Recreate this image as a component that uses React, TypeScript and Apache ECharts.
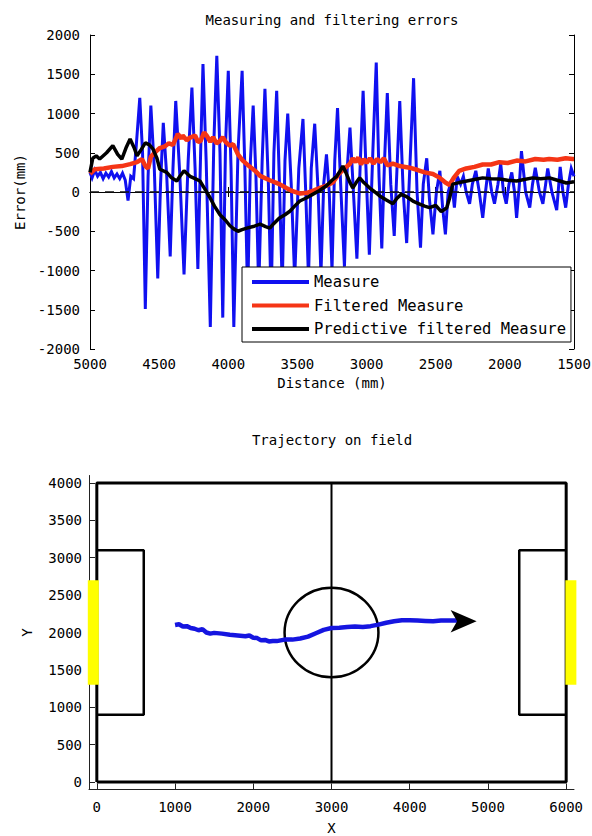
import React, { useEffect, useRef } from 'react';
import * as echarts from 'echarts';

const FONT = 'DejaVu Sans Mono';

// ---- Top chart data: [distance (mm), error (mm)] ----
const measurePts = [
  [5000, 250], [4985, 180], [4965, 280], [4945, 200], [4925, 250], [4905, 170], [4885, 240], [4865, 190],
  [4845, 260], [4825, 180], [4805, 230], [4785, 170], [4765, 240], [4745, 150], [4725, -110], [4705, 200],
  [4685, 170], [4665, 600], [4640, 1200], [4620, 500], [4600, -1490], [4580, 200], [4560, 1100], [4535, 300],
  [4510, -1100], [4490, 100], [4470, 880], [4445, 200], [4420, -820], [4400, 300], [4380, 1160], [4350, 200],
  [4320, -1050], [4290, 400], [4263, 1330], [4240, 300], [4220, -980], [4200, 500], [4183, 1630], [4160, 400],
  [4130, -1720], [4105, 600], [4083, 1735], [4060, 500], [4040, -1600], [4020, 600], [4000, 1545], [3980, 300],
  [3960, -1720], [3930, 500], [3900, 1545], [3880, 300], [3860, -1350], [3840, 400], [3820, 1100], [3800, 200],
  [3780, -1250], [3755, 400], [3735, 1315], [3710, 100], [3690, -1400], [3670, 500], [3650, 1290], [3630, 100],
  [3610, -1200], [3590, 400], [3570, 1000], [3545, 100], [3520, -1100], [3490, 300], [3460, 930], [3440, 0],
  [3420, -1100], [3400, 300], [3375, 870], [3350, 0], [3330, -1050], [3310, 100], [3290, 480], [3270, 0],
  [3250, -1000], [3230, 400], [3210, 1070], [3185, 0], [3160, -950], [3140, 300], [3120, 820], [3095, 0],
  [3070, -850], [3045, 400], [3025, 1290], [3000, 100], [2980, -800], [2955, 500], [2930, 1650], [2910, 200],
  [2890, -720], [2870, 400], [2850, 1260], [2825, 100], [2800, -560], [2780, 300], [2760, 1160], [2735, 0],
  [2710, -650], [2685, 400], [2660, 1450], [2635, 0], [2610, -710], [2590, 100], [2565, 430], [2545, -100],
  [2520, -540], [2495, 0], [2470, 270], [2450, -200], [2430, -540], [2410, 0], [2385, 150], [2365, -200],
  [2345, 200], [2320, 100], [2300, 200], [2280, 0], [2255, -150], [2235, 100], [2210, 270], [2185, 0],
  [2160, -330], [2140, 0], [2120, 300], [2095, 0], [2075, -150], [2050, 100], [2030, 360], [2010, 0],
  [1990, -150], [1970, 100], [1950, 250], [1930, 0], [1915, -330], [1895, 100], [1880, 520], [1850, 0],
  [1820, -200], [1800, 100], [1780, 310], [1750, 0], [1725, -150], [1705, 100], [1690, 300], [1660, 0],
  [1625, -230], [1610, 100], [1600, 320], [1580, 0], [1560, -200], [1540, 100], [1520, 300], [1500, 200],
];

const filteredPts = [
  [5000, 230], [4965, 290], [4900, 300], [4835, 320], [4770, 330], [4710, 355], [4660, 380], [4625, 420],
  [4600, 330], [4580, 300], [4560, 450], [4520, 520], [4495, 560], [4460, 580], [4430, 620], [4400, 600],
  [4365, 740], [4340, 680], [4330, 720], [4300, 660], [4280, 690], [4240, 720], [4220, 640], [4200, 650],
  [4175, 760], [4155, 715], [4130, 640], [4110, 700], [4085, 620], [4060, 650], [4040, 700], [4020, 640],
  [3990, 590], [3965, 610], [3930, 480], [3895, 400], [3850, 330], [3800, 260], [3770, 205], [3700, 150],
  [3630, 100], [3580, 50], [3535, 10], [3480, -20], [3430, -10], [3380, 20], [3340, 50], [3290, 80],
  [3245, 120], [3200, 230], [3160, 300], [3120, 360], [3100, 430], [3080, 380], [3060, 440], [3040, 350],
  [3020, 420], [3000, 370], [2975, 430], [2950, 360], [2925, 420], [2900, 380], [2875, 430], [2850, 340],
  [2810, 360], [2760, 330], [2690, 310], [2630, 280], [2580, 250], [2520, 230], [2470, 180], [2430, 120],
  [2400, 90], [2370, 180], [2330, 270], [2280, 300], [2220, 320], [2160, 350], [2100, 350], [2040, 380],
  [1980, 370], [1915, 400], [1850, 390], [1780, 420], [1720, 410], [1680, 420], [1620, 410], [1560, 430],
  [1510, 420], [1500, 420],
];

const predictivePts = [
  [5000, 250], [4980, 430], [4955, 460], [4930, 420], [4880, 500], [4835, 590], [4800, 480], [4770, 420],
  [4740, 560], [4710, 675], [4680, 560], [4660, 460], [4630, 540], [4600, 625], [4570, 600], [4545, 550],
  [4516, 430], [4495, 290], [4445, 250], [4410, 180], [4372, 140], [4350, 200], [4320, 270], [4277, 200],
  [4240, 170], [4205, 140], [4170, 40], [4133, -70], [4100, -180], [4060, -290], [4020, -360], [3988, -430],
  [3960, -470], [3930, -500], [3900, -480], [3866, -460], [3820, -440], [3770, -410], [3730, -440], [3700, -460],
  [3670, -400], [3630, -330], [3590, -290], [3555, -245], [3520, -180], [3483, -115], [3440, -80], [3390, -30],
  [3340, 20], [3290, 80], [3250, 150], [3216, 200], [3190, 270], [3172, 330], [3150, 250], [3120, 120],
  [3100, 50], [3075, 120], [3050, 180], [3020, 120], [2977, 50], [2940, 0], [2905, -50], [2860, -100],
  [2810, -150], [2780, -80], [2750, -30], [2710, -60], [2665, -115], [2620, -150], [2580, -180], [2545, -200],
  [2500, -170], [2460, -250], [2420, -200], [2400, -80], [2377, 100], [2330, 120], [2275, 140], [2220, 160],
  [2160, 180], [2100, 170], [2037, 165], [1980, 150], [1915, 140], [1860, 160], [1800, 180], [1740, 170],
  [1677, 180], [1620, 150], [1555, 115], [1500, 130],
];

const zeroLine = [[5000, 0], [1500, 0]];

// ---- Bottom chart data: field (mm) ----
const fieldOuter = [[0, 0], [6000, 0], [6000, 4000], [0, 4000], [0, 0]];
const centerLine = [[3000, 0], [3000, 4000]];
const leftBox = [[0, 900], [600, 900], [600, 3100], [0, 3100]];
const rightBox = [[6000, 900], [5400, 900], [5400, 3100], [6000, 3100]];
const leftGoal = [[-45, 1300], [-45, 2700]];
const rightGoal = [[6060, 1300], [6060, 2700]];
const centerCircle = [[3000, 2000, 600]];
const trajectory = [
  [1000, 2100], [1050, 2110], [1100, 2080], [1150, 2085], [1200, 2060], [1250, 2050], [1300, 2030], [1350, 2045],
  [1400, 2000], [1450, 1985], [1500, 1995], [1600, 1985], [1700, 1970], [1800, 1960], [1900, 1950], [1950, 1960],
  [2000, 1930], [2050, 1925], [2100, 1895], [2150, 1900], [2200, 1880], [2250, 1885], [2300, 1885], [2400, 1905],
  [2500, 1905], [2600, 1920], [2700, 1945], [2800, 1990], [2900, 2035], [3000, 2060], [3100, 2065], [3200, 2075],
  [3300, 2080], [3400, 2075], [3500, 2085], [3600, 2105], [3700, 2130], [3800, 2150], [3900, 2165], [4000, 2165],
  [4100, 2160], [4200, 2155], [4300, 2150], [4400, 2160], [4500, 2160], [4600, 2160], [4700, 2150],
];
const arrowHead = [[4855, 2150]];

const fieldXTicks = [0, 1000, 2000, 3000, 4000, 5000, 6000];
const fieldYTicks = [0, 500, 1000, 1500, 2000, 2500, 3000, 3500, 4000];

const BLUE = '#1010f0';
const RED = '#f53516';
const BLACK = '#000000';

const labelStyle = { color: '#000', fontFamily: FONT, fontSize: 14 };
const fmt = (v: number) => String(v);

export default function App() {
  const ref = useRef<HTMLDivElement>(null);
  useEffect(() => {
    if (!ref.current) return;
    const chart = echarts.init(ref.current, null, { renderer: 'svg' });

    const boxAxisCommon = {
      axisLine: { show: true, lineStyle: { color: '#000', width: 1 } },
      axisTick: { show: true, inside: true, length: 5, lineStyle: { color: '#000', width: 1 } },
      splitLine: { show: false },
    };

    const fieldLine = (name: string, data: number[][], width: number, color = BLACK) => ({
      name,
      type: 'line',
      xAxisIndex: 2,
      yAxisIndex: 2,
      data,
      showSymbol: false,
      symbol: 'none',
      clip: false,
      lineStyle: { color, width, cap: 'butt' },
      itemStyle: { color },
      silent: true,
      z: 2,
    });

    const option: any = {
      animation: false,
      backgroundColor: '#fff',
      graphic: [
        {
          type: 'text', x: 332, y: 20,
          style: { text: 'Measuring and filtering errors', font: `14px "${FONT}"`, fill: '#000', textAlign: 'center', textVerticalAlign: 'middle' },
        },
        {
          type: 'text', x: 332, y: 440,
          style: { text: 'Trajectory on field', font: `14px "${FONT}"`, fill: '#000', textAlign: 'center', textVerticalAlign: 'middle' },
        },
      ],
      grid: [
        { left: 90, top: 35, width: 484, height: 314, containLabel: false, outerBoundsMode: 'none' },
        { left: 89, top: 475.5, width: 485, height: 314, containLabel: false, outerBoundsMode: 'none' },
      ],
      legend: {
        data: [{ name: 'Measure' }, { name: 'Filtered Measure' }, { name: 'Predictive filtered Measure' }],
        orient: 'vertical',
        left: 242,
        top: 267,
        itemWidth: 57,
        itemHeight: 4,
        itemGap: 7.5,
        icon: 'rect',
        padding: [7, 5, 5, 10],
        borderColor: '#000',
        borderWidth: 1,
        borderRadius: 0,
        backgroundColor: '#fff',
        textStyle: { color: '#000', fontFamily: FONT, fontSize: 15.5, lineHeight: 16 },
        selectedMode: false,
      },
      xAxis: [
        {
          gridIndex: 0, type: 'value', inverse: true, min: 1500, max: 5000, interval: 500, position: 'bottom',
          ...boxAxisCommon,
          axisLabel: { ...labelStyle, margin: 8, formatter: fmt },
          name: 'Distance (mm)', nameLocation: 'middle', nameGap: 27,
          nameTextStyle: { ...labelStyle },
        },
        {
          gridIndex: 0, type: 'value', inverse: true, min: 1500, max: 5000, interval: 500, position: 'top',
          ...boxAxisCommon,
          axisLabel: { show: false },
        },
        {
          gridIndex: 1, type: 'value', min: -100, max: 6100, position: 'bottom',
          axisLine: { show: true, onZero: false, lineStyle: { color: '#222', width: 1 } },
          axisTick: { show: true, inside: true, length: 6, customValues: fieldXTicks, lineStyle: { color: '#222' } },
          axisLabel: { ...labelStyle, margin: 10, customValues: fieldXTicks, formatter: fmt },
          splitLine: { show: false },
          name: 'X', nameLocation: 'middle', nameGap: 31,
          nameTextStyle: { ...labelStyle },
        },
      ],
      yAxis: [
        {
          gridIndex: 0, type: 'value', min: -2000, max: 2000, interval: 500, position: 'left',
          ...boxAxisCommon,
          axisLabel: { ...labelStyle, margin: 10, formatter: fmt },
          name: 'Error(mm)', nameLocation: 'middle', nameGap: 63,
          nameTextStyle: { ...labelStyle },
        },
        {
          gridIndex: 0, type: 'value', min: -2000, max: 2000, interval: 500, position: 'right',
          ...boxAxisCommon,
          axisLabel: { show: false },
        },
        {
          gridIndex: 1, type: 'value', min: -100, max: 4100, position: 'left',
          axisLine: { show: true, onZero: false, lineStyle: { color: '#222', width: 1 } },
          axisTick: { show: true, inside: true, length: 6, customValues: fieldYTicks, lineStyle: { color: '#222' } },
          axisLabel: { ...labelStyle, margin: 7, customValues: fieldYTicks, formatter: fmt },
          splitLine: { show: false },
          name: 'Y', nameLocation: 'middle', nameGap: 55,
          nameTextStyle: { ...labelStyle },
        },
      ],
      series: [
        {
          name: 'Measure', type: 'line', xAxisIndex: 0, yAxisIndex: 0, data: measurePts,
          showSymbol: false, symbol: 'none', color: BLUE,
          lineStyle: { color: BLUE, width: 3, join: 'miter' }, itemStyle: { color: BLUE }, z: 2,
        },
        {
          name: 'zero', type: 'line', xAxisIndex: 0, yAxisIndex: 0, data: zeroLine,
          showSymbol: false, symbol: 'none',
          lineStyle: { color: '#111', width: 1.5, type: [9, 6] }, z: 2, silent: true,
        },
        {
          name: 'Filtered Measure', type: 'line', xAxisIndex: 0, yAxisIndex: 0, data: filteredPts,
          showSymbol: false, symbol: 'none', color: RED,
          lineStyle: { color: RED, width: 4.5 }, itemStyle: { color: RED }, z: 3,
        },
        {
          name: 'Predictive filtered Measure', type: 'line', xAxisIndex: 0, yAxisIndex: 0, data: predictivePts,
          showSymbol: false, symbol: 'none', color: BLACK,
          lineStyle: { color: BLACK, width: 3.5 }, itemStyle: { color: BLACK }, z: 3,
        },
        fieldLine('outer', fieldOuter, 3),
        fieldLine('center', centerLine, 2),
        fieldLine('leftBox', leftBox, 2.5),
        fieldLine('rightBox', rightBox, 2.5),
        fieldLine('leftGoal', leftGoal, 11, '#ffff00'),
        fieldLine('rightGoal', rightGoal, 11, '#ffff00'),
        {
          name: 'circle', type: 'custom', xAxisIndex: 2, yAxisIndex: 2, data: centerCircle,
          clip: false, silent: true, z: 2,
          encode: { x: 0, y: 1 },
          renderItem: (params: any, api: any) => {
            const c = api.coord([api.value(0), api.value(1)]);
            const r = api.value(2);
            const p = api.coord([api.value(0) + r, api.value(1) + r]);
            return {
              type: 'ellipse',
              shape: { cx: c[0], cy: c[1], rx: Math.abs(p[0] - c[0]), ry: Math.abs(c[1] - p[1]) },
              style: { fill: 'none', stroke: '#000', lineWidth: 2.5 },
            };
          },
        },
        {
          name: 'trajectory', type: 'line', xAxisIndex: 2, yAxisIndex: 2, data: trajectory,
          showSymbol: false, symbol: 'none',
          lineStyle: { color: '#1515e0', width: 4.5 }, z: 4, silent: true,
        },
        {
          name: 'arrow', type: 'scatter', xAxisIndex: 2, yAxisIndex: 2, data: arrowHead,
          symbol: 'arrow', symbolSize: [17, 26], symbolRotate: -90,
          itemStyle: { color: '#000', opacity: 1 }, z: 5, silent: true,
        },
      ],
    };

    chart.setOption(option);
    return () => chart.dispose();
  }, []);

  return (
    <div
      ref={ref}
      style={{ position: 'fixed', left: 0, top: 0, width: 592, height: 836, background: '#fff' }}
    />
  );
}
